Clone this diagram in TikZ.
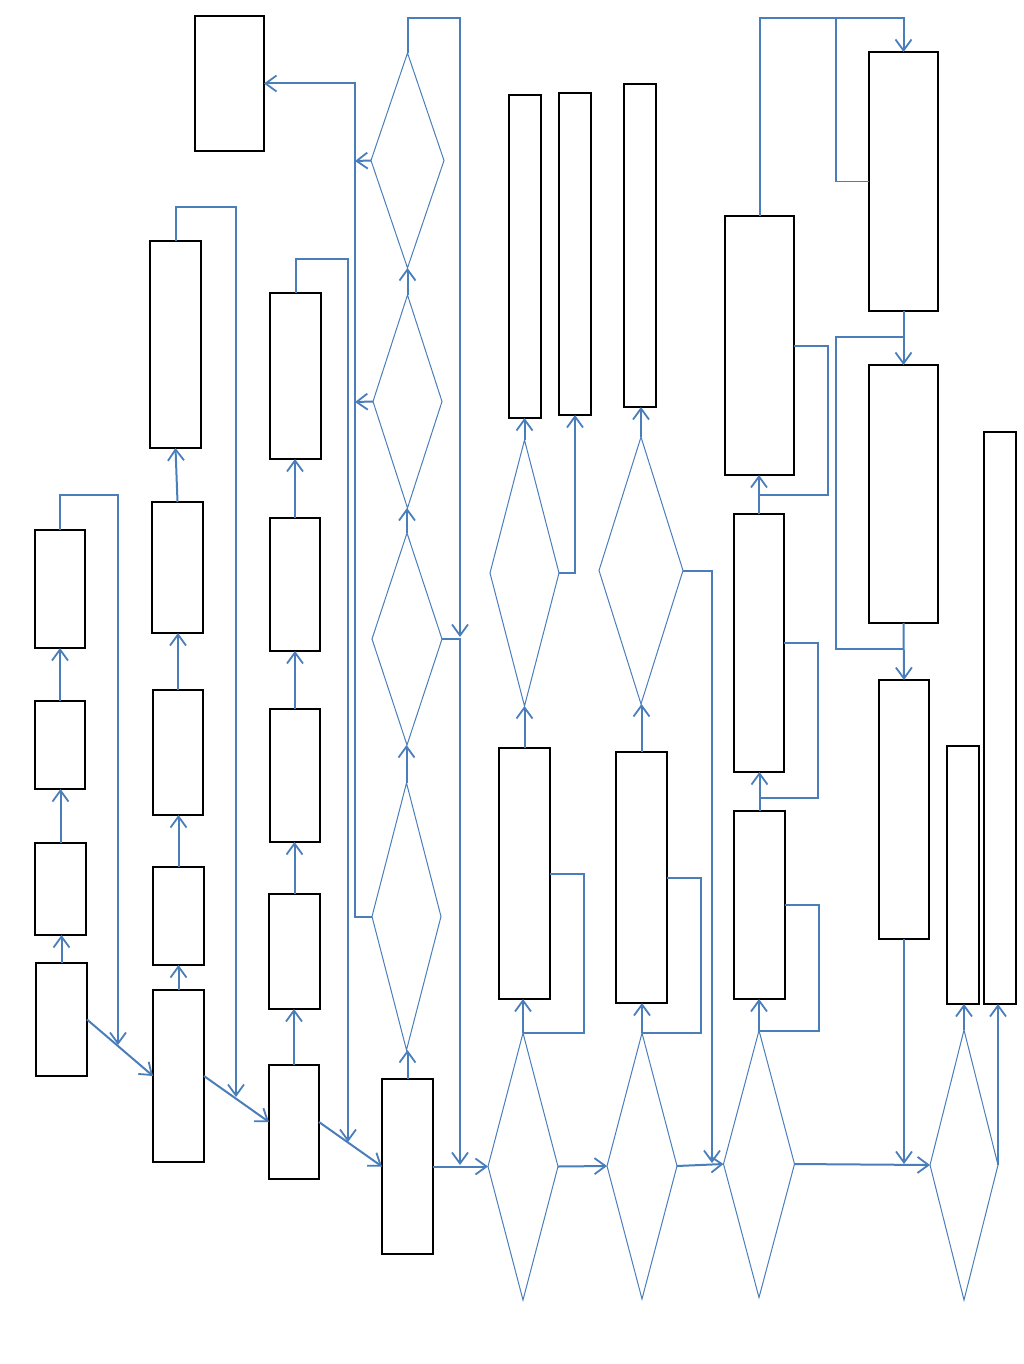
\documentclass[tikz,border=0pt]{standalone}
\usetikzlibrary{arrows.meta,shapes.geometric}
\definecolor{lnblue}{HTML}{4A7EBB}
\tikzset{
  bx/.style={draw=black,line width=1.3pt,inner sep=0pt,outer sep=0pt,rectangle,fill=white},
  dia/.style={draw=lnblue,line width=1pt,inner sep=0pt,outer sep=0pt,diamond},
  cn/.style={draw=lnblue,line width=2pt},
  thin cn/.style={draw=lnblue,line width=1.3pt},
  arr/.style={cn,-{Straight Barb[length=11pt,width=16pt,line width=1.8pt]}},
}
\newcommand\bxn[5]{\node[bx,minimum width=#4pt,minimum height=#5pt] (#1) at (#2,#3) {};}
\newcommand\dmn[5]{\node[dia,minimum width=#4pt,minimum height=#5pt] (#1) at (#2,#3) {};}
\begin{document}
\begin{tikzpicture}[x=1pt,y=-1pt]
\useasboundingbox (0,0) rectangle (1023,1364);
% boxes
\bxn{B0}{229.5}{83.5}{69}{135}
\bxn{B1a}{60}{589}{50}{118}
\bxn{B1b}{60}{745}{50}{88}
\bxn{B1c}{60.5}{889}{51}{92}
\bxn{B1d}{61.5}{1019.5}{51}{113}
\bxn{B2a}{175.5}{344.5}{51}{207}
\bxn{B2b}{177.5}{567.5}{51}{131}
\bxn{B2c}{178}{752.5}{50}{125}
\bxn{B2d}{178.5}{916}{51}{98}
\bxn{B2e}{178.5}{1076}{51}{172}
\bxn{B3a}{295.5}{376}{51}{166}
\bxn{B3b}{295}{584.5}{50}{133}
\bxn{B3c}{295}{775.5}{50}{133}
\bxn{B3d}{294.5}{951.5}{51}{115}
\bxn{B3e}{294}{1122}{50}{114}
\bxn{B4}{407.5}{1166.5}{51}{175}
\bxn{B5a1}{525}{256.5}{32}{323}
\bxn{B5a2}{575}{254}{32}{322}
\bxn{B6a}{640}{245.5}{32}{323}
\bxn{B5b}{524.5}{873.5}{51}{251}
\bxn{B6b}{641.5}{877.5}{51}{251}
\bxn{B7a}{759.5}{345.5}{69}{259}
\bxn{B7b}{759}{643}{50}{258}
\bxn{B7c}{759.5}{905}{51}{188}
\bxn{B8a}{903.5}{181.5}{69}{259}
\bxn{B8b}{903.5}{494}{69}{258}
\bxn{B8c}{904}{809.5}{50}{259}
\bxn{B8d}{963}{875}{32}{258}
\bxn{B8e}{1000}{718}{32}{572}
% diamonds
\dmn{D1}{406.5}{916.5}{69}{267}
\dmn{D2}{407}{639}{70}{212}
\dmn{D3}{407.5}{401.5}{69}{213}
\dmn{D4}{407.5}{160.5}{73}{215}
\dmn{D5}{523}{1166.5}{70}{267}
\dmn{D5u}{524.5}{573}{69}{266}
\dmn{D6}{642}{1166}{70}{266}
\dmn{D6u}{641}{570.5}{84}{267}
\dmn{D7}{759}{1164}{71}{267}
\dmn{D8}{964}{1165}{68}{270}
% free ends
\coordinate (e1) at (118,1045);
\coordinate (e2) at (236,1097);
\coordinate (e3) at (348,1142);
\coordinate (e4) at (460,637);
\coordinate (e5) at (460,1165);
\coordinate (e6) at (355,161);
\coordinate (e7) at (355,402);
\coordinate (e8) at (712,1163);
\coordinate (e9) at (904,1164);
% column 1
\draw[arr] (B1d.north) -- (B1d.north |- B1c.south);
\draw[arr] (B1c.north) -- (B1c.north |- B1b.south);
\draw[arr] (B1b.north) -- (B1b.north |- B1a.south);
\draw[arr] (B1a.north) -- ++(0,-35) -| (e1);
\draw[arr] (B1d.east) -- (B2e.west);
% column 2
\draw[arr] (B2e.north) -- (B2e.north |- B2d.south);
\draw[arr] (B2d.north) -- (B2d.north |- B2c.south);
\draw[arr] (B2c.north) -- (B2c.north |- B2b.south);
\draw[arr] (B2b.north) -- (B2a.south);
\draw[arr] (B2a.north) -- ++(0,-34) -| (e2);
\draw[arr] (B2e.east) -- (B3e.west);
% column 3
\draw[arr] (B3e.north) -- (B3e.north |- B3d.south);
\draw[arr] (B3d.north) -- (B3d.north |- B3c.south);
\draw[arr] (B3c.north) -- (B3c.north |- B3b.south);
\draw[arr] (B3b.north) -- (B3b.north |- B3a.south);
\draw[arr] (B3a.north) -- ++(0,-34) -| (e3);
\draw[arr] (B3e.east) -- (B4.west);
% centre column
\draw[arr] (B4.north) -- (B4.north |- D1.south);
\draw[arr] (D1.north) -- (D1.north |- D2.south);
\draw[arr] (D2.north) -- (D2.north |- D3.south);
\draw[arr] (D3.north) -- (D3.north |- D4.south);
\draw[arr] (D4.north) -- ++(0,-35) -| (e4);
\draw[arr] (D2.east) -| (e5);
\draw[arr] (D4.west) -- (e6);
\draw[arr] (D3.west) -- (e7);
\draw[arr] (D1.west) -- ++(-17,0) |- (B0.east);
% bottom chain
\draw[arr] (B4.east) -- (D5.west);
\draw[arr] (D5.east) -- (D6.west);
\draw[arr] (D6.east) -- (D7.west);
\draw[arr] (D7.east) -- (D8.west);
% column 5
\draw[arr] (D5.north) -- (D5.north |- B5b.south);
\draw[cn] (B5b.east) -- ++(34,0) |- (D5.north);
\draw[arr] (B5b.north) -- (B5b.north |- D5u.south);
\draw[arr] (D5u.north) -- (D5u.north |- B5a1.south);
\draw[arr] (D5u.east) -| (B5a2.south);
% column 6
\draw[arr] (D6u.north) -- (D6u.north |- B6a.south);
\draw[arr] (D6u.east) -| (e8);
\draw[arr] (B6b.north) -- (B6b.north |- D6u.south);
\draw[arr] (D6.north) -- (D6.north |- B6b.south);
\draw[cn] (B6b.east) -- ++(34,0) |- (D6.north);
% column 7
\draw[arr] (D7.north) -- (D7.north |- B7c.south);
\draw[cn] (B7c.east) -- ++(34,0) |- (D7.north);
\draw[arr] (B7c.north) -- (B7c.north |- B7b.south);
\draw[cn] (B7b.east) -- ++(34,0) |- ([yshift=13pt]B7c.north);
\draw[arr] (B7b.north) -- (B7b.north |- B7a.south);
\draw[cn] (B7a.east) -- ++(34,0) |- ([yshift=19pt]B7b.north);
\draw[arr] (B7a.north) -- (B7a.north |- 0,18) -| (B8a.north);
% column 8
\draw[thin cn] (B8a.west) -- (836,181.5) -- (836,18);
\draw[arr] (B8a.south) -- (B8b.north);
\draw[thin cn] (904,337) -- (836,337) -- (836,649) -- (904,649);
\draw[arr] (B8b.south) -- (B8c.north);
\draw[arr] (B8c.south) -- (e9);
\draw[arr] (D8.north) -- (D8.north |- B8d.south);
\draw[arr] (D8.east) -- (D8.east |- B8e.south);
\end{tikzpicture}
\end{document}
